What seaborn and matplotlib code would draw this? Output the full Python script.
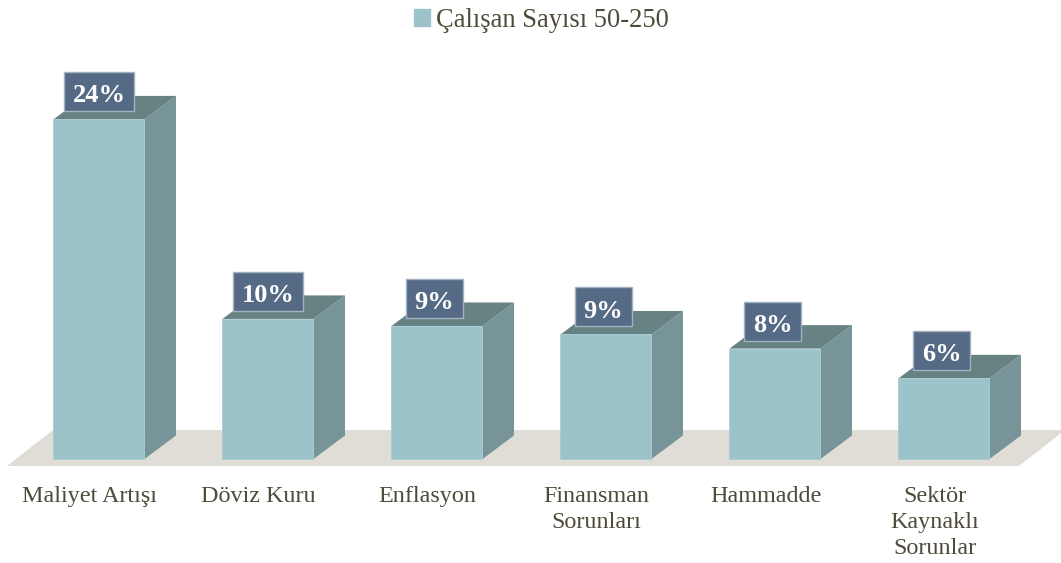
#! /usr/bin/env python
from matplotlib.patches import Patch, Rectangle
from matplotlib.transforms import ScaledTranslation
import matplotlib.pyplot as plt
import seaborn as sns

categories = [
    "Maliyet Artışı",
    "Döviz Kuru",
    "Enflasyon",
    "Finansman\nSorunları",
    "Hammadde",
    "Sektör\nKaynaklı\nSorunlar",
]
heights = [24.0, 9.9, 9.4, 8.8, 7.8, 5.7]  # bar heights
labels = ["24%", "10%", "9%", "9%", "8%", "6%"]
series_name = "Çalışan Sayısı 50-250"

FRONT = "#9cc3c9"
SIDE = "#779598"
TOP = "#668283"
FLOOR = "#e0ddd7"
BOX = "#546a85"
BOX_EDGE = "#a3b2c0"
TEXT = "#4f4b3b"

W, H = 1061, 563
PX_X = 169  # pixels per category
PX_Y = 14.15  # pixels per percent
BASE_PX = 459
FLOOR_PX = 466
depth_x = 31.5 / PX_X
depth_y = 23.5 / PX_Y

sns.set_theme(style="white")
plt.rcParams["font.family"] = ["Liberation Serif", "DejaVu Serif"]

fig = plt.figure(figsize=(W / 100, H / 100), dpi=100)
ax = fig.add_axes([0, (H - FLOOR_PX) / H, 1, FLOOR_PX / H])

sns.barplot(x=categories, y=heights, color=FRONT, saturation=1, width=91 / PX_X, ax=ax, zorder=3)

ax.set_xlim(-99 / PX_X, (W - 99) / PX_X)
ax.set_ylim(-(FLOOR_PX - BASE_PX) / PX_Y, BASE_PX / PX_Y)

# floor slab under the bars
y0, y1 = ax.get_ylim()[0], 29 / PX_Y
x0 = -92 / PX_X
x1 = 5 + 75 / PX_X
ax.fill([x0, x1, x1 + 46 / PX_X, x0 + 46 / PX_X], [y0, y0, y1, y1], color=FLOOR, lw=0, zorder=1)

for bar, label in zip(ax.patches[:6], labels):
    left = bar.get_x()
    right = left + bar.get_width()
    top = bar.get_height()
    centre = left + bar.get_width() / 2
    bar.set_edgecolor("#a8ccd1")
    bar.set_linewidth(0.6)
    ax.fill(
        [right, right + depth_x, right + depth_x, right],
        [0, depth_y, top + depth_y, top],
        color=SIDE, lw=0, zorder=2,
    )
    ax.fill(
        [left, left + depth_x, right + depth_x, right],
        [top, top + depth_y, top + depth_y, top],
        color=TOP, lw=0, zorder=2,
    )
    # narrow boxes sit a little left of the bar centre in the original
    shift = -2.5 if len(label) == 2 else 0  # px
    box_w = 57 if len(label) == 2 else 70  # px
    anchor = ScaledTranslation(centre, top, ax.transData)
    ax.add_patch(Rectangle(
        ((shift - box_w / 2) / 100, 8 / 100),
        box_w / 100,
        39 / 100,
        transform=fig.dpi_scale_trans + anchor,
        fc=BOX,
        ec=BOX_EDGE,
        lw=1,
        zorder=4,
    ))
    ax.annotate(
        label,
        (centre, top),
        xytext=(shift * 0.72, 18.7),
        textcoords="offset points",
        ha="center",
        va="center_baseline",
        color="white",
        fontsize=19,
        fontweight="bold",
        zorder=5,
    )

ax.set_yticks([])
ax.set_xlabel("")
ax.tick_params(axis="x", length=0, pad=14.5, labelsize=17.4, labelcolor=TEXT)
nudge = ScaledTranslation(-9.5 / 100, 0, fig.dpi_scale_trans)
for tick in ax.get_xticklabels():
    tick.set_linespacing(1.3)
    tick.set_transform(tick.get_transform() + nudge)
sns.despine(ax=ax, left=True, bottom=True)
ax.patch.set_alpha(0)

fig.legend(
    handles=[Patch(color=FRONT, label=series_name)],
    loc="upper center",
    bbox_to_anchor=(0.5104, 1.028),
    frameon=False,
    fontsize=19.1,
    labelcolor=TEXT,
    handlelength=0.6,
    handleheight=0.6,
    handletextpad=0.25,
)

fig.savefig("out.png", dpi=100)
